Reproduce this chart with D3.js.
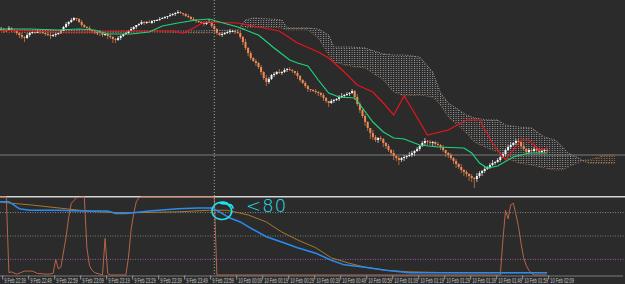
<!DOCTYPE html>
<html lang="en">
<head>
<meta charset="UTF-8">
<title>M1 Ichimoku with Stochastic</title>
<script src="https://d3js.org/d3.v7.min.js"></script>
<style>
  html, body { margin: 0; padding: 0; background: #2b2b2b; overflow: hidden; }
  svg { display: block; }
</style>
</head>
<body>
<svg id="chart"></svg>
<script>
// ---- data (prices in points, oscillators 0..100, bars are 1 minute) ----
const firstBar = "9 Feb 22:37";
const firstOpen = 169;

const closes = [
  170,171,169,170,172,170,169,167,165,163,162,165,167,168,167,169,168,167,166,165,164,165,166,167,169,
  173,176,178,180,182,181,178,175,173,172,170,169,167,168,167,165,166,164,163,161,160,162,164,166,167,
  169,171,173,175,176,178,177,178,177,179,180,180,181,182,183,184,185,186,187,188,187,186,184,183,181,
  180,179,178,177,176,178,178,174,171,167,165,166,167,168,169,169,168,167,163,158,152,147,142,139,137,
  133,128,122,118,121,125,126,128,127,128,130,131,130,129,127,124,120,117,114,111,110,109,108,107,105,
  102,99,97,99,100,101,103,104,105,106,107,109,103,96,90,84,78,72,67,63,60,62,61,57,54,
  50,47,44,42,40,42,43,44,45,47,49,51,54,57,59,58,57,58,56,55,53,50,47,45,42,
  39,36,33,30,28,26,24,22,21,24,27,29,31,33,35,37,38,40,43,46,50,53,55,57,59,
  58,54,51,48,50,49,51,50,48,49,50,49
];
const upWicks = [
  1,2,1,0,2,1,1,0,1,2,1,2,1,1,0,2,1,1,0,1,2,1,1,0,1,
  1,2,1,2,1,0,1,2,1,1,2,0,1,1,2,1,0,1,2,1,1,2,1,0,1,
  1,2,1,0,1,2,1,1,2,1,0,1,2,1,1,0,2,1,1,2,1,0,1,2,1,
  2,1,0,1,2,1,3,1,2,1,0,2,1,1,2,1,0,1,2,1,3,1,2,1,2,
  1,2,1,3,2,1,2,1,3,1,2,1,2,1,0,2,1,1,2,1,0,1,2,1,1,
  2,1,0,2,1,1,2,3,1,2,1,2,1,3,2,1,2,1,0,3,2,1,2,1,1,
  2,1,3,1,2,1,2,1,3,2,1,2,1,2,3,1,2,1,1,2,1,2,0,1,2,
  1,2,1,3,1,2,1,2,1,3,2,1,2,1,2,3,1,2,1,2,1,2,3,1,2,
  2,1,3,1,2,1,2,1,1,2,1,1
];
const downWicks = [
  1,1,2,1,0,2,1,2,3,2,4,1,2,1,1,0,2,1,2,1,3,1,2,1,1,
  0,1,2,1,1,2,1,2,1,2,1,2,1,2,3,2,1,3,2,4,3,1,2,1,1,
  1,0,1,2,1,1,2,1,0,1,2,1,1,0,1,2,1,1,2,1,1,2,1,1,2,
  1,2,1,1,2,1,1,2,3,2,1,2,1,1,2,1,2,1,2,3,2,3,2,1,3,
  2,3,2,4,2,1,2,1,1,2,1,2,1,2,2,3,2,1,2,3,2,1,2,3,2,
  3,2,4,1,2,1,2,1,2,1,2,1,3,2,3,2,4,3,6,3,2,3,2,4,3,
  2,3,4,3,5,2,3,2,1,2,3,1,2,1,2,3,2,4,3,2,3,2,4,3,2,
  3,4,2,3,4,3,5,4,9,3,2,3,2,1,2,1,2,1,2,1,2,1,2,1,2,
  2,3,2,3,2,2,1,3,2,1,2,1
];

// [bar, value]
const tenkan = [[0,170],[12,169],[23,168],[38,168],[50,169],[67,169],[71,167],[75,172],[79,178],[92,177],
  [100,173],[108,169],[115,157],[123,148],[127,142],[133,128],[138,115],[144,108],[148,97],[152,85],
  [156,104],[160,87],[165,65],[173,70],[180,80],[185,80],[190,57],[195,40],[201,60],[204,60],[208,50],[211,52]];
const kijun = [[0,171],[12,171],[23,170],[31,171],[37,170],[42,166],[51,166],[58,168],[63,174],[69,177],
  [76,180],[81,181],[85,178],[92,173],[96,169],[100,165],[106,152],[112,140],[115,137],[119,134],
  [123,120],[127,107],[131,103],[137,102],[140,92],[144,78],[148,68],[152,62],[156,61],[162,55],
  [169,53],[179,52],[182,47],[185,37],[188,32],[192,34],[198,43],[204,47],[211,47]];

const cloudBars = [0,19,38,58,77,92,95,98,104,109,111,119,123,127,129,135,141,148,152,156,162,167,170,173,
  180,183,188,192,195,200,205,210,214,217,219,223,225,227,231,233,237];
const spanA = [168,167,167,168,167,168,172,173,173,172,170,170,162,145,138,134,132,120,108,104,105,103,95,83,
  67,58,52,48,42,37,35,32,30,30,33,37,40,40,43,45,45];
const spanB = [170,170,169,169,169,170,180,182,181,180,172,172,171,165,153,153,152,146,145,145,143,128,107,97,
  85,82,80,80,75,73,72,63,60,53,47,42,39,37,37,37,37];

const priceLine = 45;
const separatorBar = 83;

const stochMain = [[0,94],[4,94],[8,85],[12,83],[23,83],[32,82],[42,82],[45,79],[49,79],[58,82],[69,85],
  [77,86],[82,86],[85,81],[89,73],[93,68],[96,62],[103,49],[110,41],[115,35],[122,28],[128,19],[133,13],
  [141,10],[149,6],[158,3],[173,3],[211,3]];
const stochSignal = [[0,94],[5,92],[12,90],[23,86],[31,83],[38,81],[46,80],[54,80],[69,81],[81,83],[88,83],
  [96,77],[103,68],[109,55],[115,45],[122,35],[128,22],[135,15],[141,10],[149,6],[158,4],[173,3],[211,3]];
const fastLine = [[0,100],[3,100],[4,3],[5,4],[7,1],[10,5],[13,5],[15,2],[19,1],[21,2],[22,20],[23,8],[24,10],
  [26,49],[27,74],[28,92],[30,99],[33,100],[34,35],[35,12],[36,6],[37,3],[40,0],[41,47],[42,2],[43,0],[49,0],
  [50,23],[51,58],[52,79],[53,94],[54,99],[55,100],[83,100],[84,0],[193,0],[194,45],[195,83],[196,72],[197,90],
  [198,92],[199,78],[200,62],[201,40],[202,22],[203,12],[204,6],[205,2],[206,0],[211,0]];
const levels = [80, 50, 20];

const tickLabels = ["9 Feb 22:39","9 Feb 22:49","9 Feb 22:59","9 Feb 23:09","9 Feb 23:19","9 Feb 23:29",
  "9 Feb 23:39","9 Feb 23:49","9 Feb 23:59","10 Feb 00:09","10 Feb 00:19","10 Feb 00:29","10 Feb 00:39",
  "10 Feb 00:49","10 Feb 00:59","10 Feb 01:09","10 Feb 01:19","10 Feb 01:29","10 Feb 01:39","10 Feb 01:49",
  "10 Feb 01:59","10 Feb 02:09"];

const note = "<80";
const noteBar = 86;
const noteLevel = 82;

// ---- drawing ----
const width = 625, height = 284;
const mainBottom = 196, subTop = 197, subBottom = 275;

const parseT = d3.timeParse("%e %b %H:%M");
const start = parseT(firstBar);
const barTime = i => d3.timeMinute.offset(start, i);

const x = d3.scaleTime().domain([start, barTime(240)]).range([-1.5, 622.5]);
const py = d3.scaleLinear().domain([4, 200]).range([mainBottom, 0]);
const oy = d3.scaleLinear().domain([0, 100]).range([subBottom, subTop]);

const svg = d3.select("#chart").attr("width", width).attr("height", height);
svg.append("rect").attr("width", width).attr("height", height).attr("fill", "#2b2b2b");

const defs = svg.append("defs");
defs.append("clipPath").attr("id", "mainClip").append("rect")
  .attr("x", 0).attr("y", 0).attr("width", width).attr("height", mainBottom);
function dotPattern(id, color) {
  const p = defs.append("pattern").attr("id", id).attr("patternUnits", "userSpaceOnUse")
    .attr("x", x(barTime(0)) - 0.5).attr("y", 0).attr("width", 2.6).attr("height", 2);
  p.append("rect").attr("width", 1).attr("height", 1).attr("fill", color);
}
dotPattern("dotsGray", "#9e9e9e");
dotPattern("dotsBrown", "#b8783f");

const main = svg.append("g").attr("clip-path", "url(#mainClip)");

// cloud
const cloud = cloudBars.map((b, k) => ({t: barTime(b), a: spanA[k], b: spanB[k]}));
main.append("path").datum(cloud).attr("fill", "url(#dotsGray)")
  .attr("d", d3.area().x(d => x(d.t)).y0(d => py(d.a)).y1(d => py(Math.max(d.a, d.b))));
main.append("path").datum(cloud).attr("fill", "url(#dotsBrown)")
  .attr("d", d3.area().x(d => x(d.t)).y0(d => py(d.b)).y1(d => py(Math.max(d.a, d.b))));
main.append("path").datum(cloud).attr("fill", "none").attr("stroke", "#9a6a42")
  .attr("stroke-dasharray", "1,1.6")
  .attr("d", d3.line().x(d => x(d.t)).y(d => py(d.a)));
main.append("path").datum(cloud).attr("fill", "none").attr("stroke", "#a0a0a0")
  .attr("stroke-dasharray", "1,1.6")
  .attr("d", d3.line().x(d => x(d.t)).y(d => py(d.b)));

// horizontal price line
main.append("line").attr("x1", 0).attr("x2", width)
  .attr("y1", py(priceLine)).attr("y2", py(priceLine))
  .attr("stroke", "#7c7c7c").attr("stroke-width", 1);

// candles
const candles = closes.map((c, i) => {
  const o = i === 0 ? firstOpen : closes[i - 1];
  return {t: barTime(i), o: o, c: c,
    h: Math.max(o, c) + (upWicks[i] || 0), l: Math.min(o, c) - (downWicks[i] || 0)};
});
const upCol = "#f4f4f4", downCol = "#f08a55";
main.selectAll("line.wick").data(candles).enter().append("line")
  .attr("class", "wick")
  .attr("x1", d => x(d.t)).attr("x2", d => x(d.t))
  .attr("y1", d => py(d.h)).attr("y2", d => py(d.l))
  .attr("stroke", d => d.c >= d.o ? "#bdbdbd" : "#b8704a").attr("stroke-width", 0.9);
main.selectAll("rect.body").data(candles).enter().append("rect")
  .attr("class", "body")
  .attr("x", d => x(d.t) - 1).attr("width", 2)
  .attr("y", d => py(Math.max(d.o, d.c)))
  .attr("height", d => Math.max(1, Math.abs(py(d.o) - py(d.c))))
  .attr("fill", d => d.c >= d.o ? upCol : downCol);

const pline = d3.line().x(d => x(barTime(d[0]))).y(d => py(d[1]));
main.append("path").datum(tenkan).attr("fill", "none").attr("stroke", "#e8151a")
  .attr("stroke-width", 1.2).attr("d", pline);
main.append("path").datum(kijun).attr("fill", "none").attr("stroke", "#1ed47a")
  .attr("stroke-width", 1.2).attr("d", pline);

// panel separator
svg.append("line").attr("x1", 0).attr("x2", width).attr("y1", 196.8).attr("y2", 196.8)
  .attr("stroke", "#d6d6d6").attr("stroke-width", 1.4);

// oscillator panel
const levelCols = ["#8c8c8c", "#76806c", "#9a5aa8"];
svg.selectAll("line.level").data(levels).enter().append("line")
  .attr("class", "level")
  .attr("x1", 0).attr("x2", width)
  .attr("y1", d => oy(d)).attr("y2", d => oy(d))
  .attr("stroke", (d, i) => levelCols[i]).attr("stroke-dasharray", "1,1.5");

const oline = d3.line().x(d => x(barTime(d[0]))).y(d => oy(d[1]));
svg.append("path").datum(fastLine).attr("fill", "none").attr("stroke", "#b8644a")
  .attr("stroke-width", 1).attr("d", oline);
svg.append("path").datum(stochSignal).attr("fill", "none").attr("stroke", "#a8782c")
  .attr("stroke-width", 1).attr("d", oline);
svg.append("path").datum(stochMain).attr("fill", "none").attr("stroke", "#2a8cf0")
  .attr("stroke-width", 1.5).attr("d", oline);

// day separator
svg.append("line").attr("x1", x(barTime(separatorBar))).attr("x2", x(barTime(separatorBar)))
  .attr("y1", 0).attr("y2", subBottom)
  .attr("stroke", "#a8a8a8").attr("stroke-dasharray", "1,2");

// time axis
const tickDates = tickLabels.map(s => {
  const d = parseT(s);
  if (s.startsWith("10")) d.setDate(10);
  return d;
});
const axis = svg.append("g").attr("transform", "translate(0," + (subBottom + 0.5) + ")")
  .call(d3.axisBottom(x).tickValues(tickDates).tickFormat((d, i) => tickLabels[i]).tickSize(4).tickSizeOuter(0));
axis.select(".domain").attr("stroke", "#7a7a7a");
axis.selectAll(".tick line").attr("stroke", "#9a9a9a").attr("transform", "translate(-1.5,0)");
axis.selectAll(".tick text")
  .attr("fill", "#c8c8c8").attr("font-family", "Liberation Sans, Arial, sans-serif").attr("font-size", 7)
  .attr("text-anchor", "start").attr("x", 0).attr("dy", 0).attr("y", 7.6)
  .attr("transform", "scale(0.58,1)");

// hand-drawn annotation
const cx = x(barTime(noteBar)), cy = oy(noteLevel);
const ring = d3.range(0, 31).map(k => {
  const a = -1.0 - k * (2.25 * Math.PI / 30);
  const r = 1 - k * 0.004;
  return [cx + 10.5 * r * Math.cos(a), cy + 9 * r * Math.sin(a)];
});
ring.push([cx + 9, cy - 6], [cx + 11, cy - 3]);
svg.append("path").datum(ring).attr("fill", "none").attr("stroke", "#22e2ee")
  .attr("stroke-width", 1.6).attr("stroke-linecap", "round")
  .attr("d", d3.line().curve(d3.curveCatmullRom));
svg.append("text").attr("x", cx + 24).attr("y", cy + 1)
  .attr("fill", "#22e2ee").attr("font-family", "DejaVu Sans, sans-serif")
  .attr("font-weight", 200).attr("font-size", 18).attr("letter-spacing", 1)
  .text(note);
</script>
</body>
</html>
